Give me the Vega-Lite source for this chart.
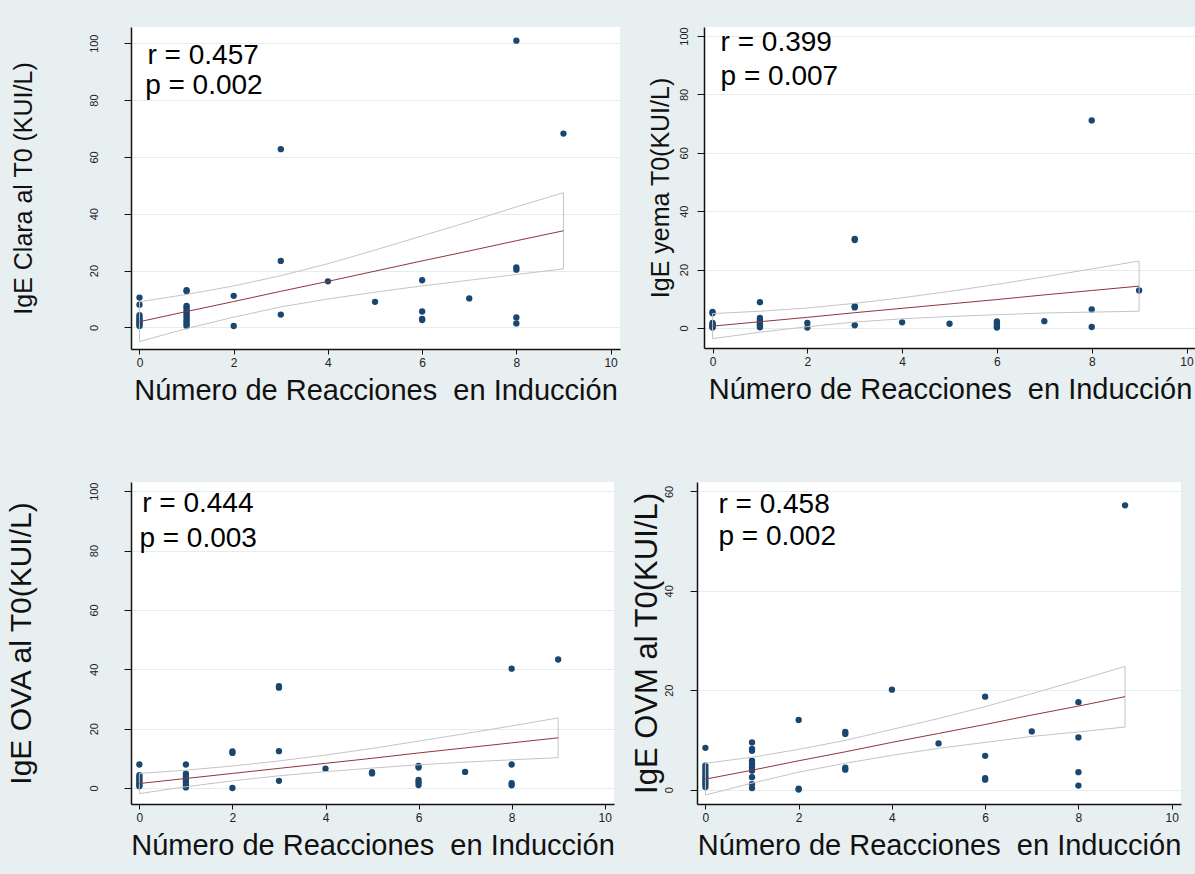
{
  "$schema": "https://vega.github.io/schema/vega-lite/v6.json",
  "background": "#e8eff1",
  "padding": {"left": 5, "top": 26, "right": 0, "bottom": 22},
  "spacing": 77,
  "config": {
    "font": "Liberation Sans",
    "view": {"fill": "white", "stroke": null},
    "axis": {"domainColor": "#111111", "domainWidth": 1.5, "tickColor": "#111111", "tickWidth": 1, "labelColor": "#222222", "titleColor": "#111111", "titleFontWeight": "normal", "labelFont": "Liberation Sans", "titleFont": "Liberation Sans", "gridColor": "#e4ecee", "gridWidth": 1},
    "axisX": {"grid": false, "tickSize": 5, "labelFontSize": 12, "labelPadding": 3, "titleFontSize": 29, "titlePadding": 8},
    "axisY": {"grid": true, "tickSize": 7, "labelFontSize": 11, "labelAngle": 270, "labelAlign": "center", "labelBaseline": "middle"}
  },
  "datasets": {
    "pts": [
      {"panel":"A","n":0,"v":10.5},{"panel":"A","n":0,"v":8.0},{"panel":"A","n":0,"v":4.3},{"panel":"A","n":0,"v":3.5},{"panel":"A","n":0,"v":2.8},{"panel":"A","n":0,"v":2.2},{"panel":"A","n":0,"v":1.6},{"panel":"A","n":0,"v":1.0},{"panel":"A","n":0,"v":0.5},
      {"panel":"A","n":1,"v":13.1},{"panel":"A","n":1,"v":12.7},{"panel":"A","n":1,"v":7.6},{"panel":"A","n":1,"v":7.0},{"panel":"A","n":1,"v":6.2},{"panel":"A","n":1,"v":5.4},{"panel":"A","n":1,"v":4.7},{"panel":"A","n":1,"v":4.0},{"panel":"A","n":1,"v":3.3},{"panel":"A","n":1,"v":2.5},{"panel":"A","n":1,"v":1.8},{"panel":"A","n":1,"v":1.0},{"panel":"A","n":1,"v":0.5},
      {"panel":"A","n":2,"v":11.1},{"panel":"A","n":2,"v":0.5},
      {"panel":"A","n":3,"v":62.7},{"panel":"A","n":3,"v":23.4},{"panel":"A","n":3,"v":4.5},
      {"panel":"A","n":4,"v":16.2},{"panel":"A","n":5,"v":9.0},
      {"panel":"A","n":6,"v":16.6},{"panel":"A","n":6,"v":5.6},{"panel":"A","n":6,"v":3.0},{"panel":"A","n":6,"v":2.6},
      {"panel":"A","n":7,"v":10.2},
      {"panel":"A","n":8,"v":100.9},{"panel":"A","n":8,"v":21.1},{"panel":"A","n":8,"v":20.3},{"panel":"A","n":8,"v":3.5},{"panel":"A","n":8,"v":1.4},
      {"panel":"A","n":9,"v":68.2},
      {"panel":"B","n":0,"v":5.5},{"panel":"B","n":0,"v":5.0},{"panel":"B","n":0,"v":1.7},{"panel":"B","n":0,"v":1.2},{"panel":"B","n":0,"v":0.8},{"panel":"B","n":0,"v":0.4},{"panel":"B","n":0,"v":0.1},
      {"panel":"B","n":1,"v":8.8},{"panel":"B","n":1,"v":3.4},{"panel":"B","n":1,"v":2.8},{"panel":"B","n":1,"v":2.2},{"panel":"B","n":1,"v":1.7},{"panel":"B","n":1,"v":1.2},{"panel":"B","n":1,"v":0.7},{"panel":"B","n":1,"v":0.2},
      {"panel":"B","n":2,"v":1.7},{"panel":"B","n":2,"v":0.1},
      {"panel":"B","n":3,"v":30.5},{"panel":"B","n":3,"v":30.1},{"panel":"B","n":3,"v":7.4},{"panel":"B","n":3,"v":7.0},{"panel":"B","n":3,"v":0.9},
      {"panel":"B","n":4,"v":1.9},{"panel":"B","n":5,"v":1.4},
      {"panel":"B","n":6,"v":2.2},{"panel":"B","n":6,"v":1.6},{"panel":"B","n":6,"v":1.0},{"panel":"B","n":6,"v":0.5},{"panel":"B","n":6,"v":0.1},
      {"panel":"B","n":7,"v":2.3},
      {"panel":"B","n":8,"v":71.1},{"panel":"B","n":8,"v":6.3},{"panel":"B","n":8,"v":0.3},
      {"panel":"B","n":9,"v":12.8},
      {"panel":"C","n":0,"v":7.9},{"panel":"C","n":0,"v":4.3},{"panel":"C","n":0,"v":3.6},{"panel":"C","n":0,"v":3.0},{"panel":"C","n":0,"v":2.4},{"panel":"C","n":0,"v":1.8},{"panel":"C","n":0,"v":1.2},{"panel":"C","n":0,"v":0.6},
      {"panel":"C","n":1,"v":7.9},{"panel":"C","n":1,"v":4.8},{"panel":"C","n":1,"v":4.0},{"panel":"C","n":1,"v":3.4},{"panel":"C","n":1,"v":2.8},{"panel":"C","n":1,"v":2.0},{"panel":"C","n":1,"v":1.0},{"panel":"C","n":1,"v":0.2},
      {"panel":"C","n":2,"v":12.3},{"panel":"C","n":2,"v":11.8},{"panel":"C","n":2,"v":0.0},
      {"panel":"C","n":3,"v":34.3},{"panel":"C","n":3,"v":33.8},{"panel":"C","n":3,"v":12.4},{"panel":"C","n":3,"v":2.4},
      {"panel":"C","n":4,"v":6.5},{"panel":"C","n":5,"v":5.3},{"panel":"C","n":5,"v":4.9},
      {"panel":"C","n":6,"v":7.4},{"panel":"C","n":6,"v":6.9},{"panel":"C","n":6,"v":2.7},{"panel":"C","n":6,"v":1.9},{"panel":"C","n":6,"v":1.0},
      {"panel":"C","n":7,"v":5.4},
      {"panel":"C","n":8,"v":40.2},{"panel":"C","n":8,"v":7.9},{"panel":"C","n":8,"v":1.6},{"panel":"C","n":8,"v":0.9},
      {"panel":"C","n":9,"v":43.3},
      {"panel":"D","n":0,"v":8.4},{"panel":"D","n":0,"v":4.8},{"panel":"D","n":0,"v":4.2},{"panel":"D","n":0,"v":3.6},{"panel":"D","n":0,"v":3.0},{"panel":"D","n":0,"v":2.5},{"panel":"D","n":0,"v":2.0},{"panel":"D","n":0,"v":1.5},{"panel":"D","n":0,"v":1.0},{"panel":"D","n":0,"v":0.5},
      {"panel":"D","n":1,"v":9.5},{"panel":"D","n":1,"v":8.2},{"panel":"D","n":1,"v":7.8},{"panel":"D","n":1,"v":5.8},{"panel":"D","n":1,"v":5.2},{"panel":"D","n":1,"v":4.5},{"panel":"D","n":1,"v":3.8},{"panel":"D","n":1,"v":2.5},{"panel":"D","n":1,"v":1.1},{"panel":"D","n":1,"v":0.3},
      {"panel":"D","n":2,"v":14.0},{"panel":"D","n":2,"v":0.2},{"panel":"D","n":2,"v":0.0},
      {"panel":"D","n":3,"v":11.6},{"panel":"D","n":3,"v":11.2},{"panel":"D","n":3,"v":4.4},{"panel":"D","n":3,"v":4.0},
      {"panel":"D","n":4,"v":20.1},{"panel":"D","n":5,"v":9.3},
      {"panel":"D","n":6,"v":18.7},{"panel":"D","n":6,"v":6.8},{"panel":"D","n":6,"v":2.3},{"panel":"D","n":6,"v":2.0},
      {"panel":"D","n":7,"v":11.7},
      {"panel":"D","n":8,"v":17.6},{"panel":"D","n":8,"v":10.5},{"panel":"D","n":8,"v":3.5},{"panel":"D","n":8,"v":0.8},
      {"panel":"D","n":9,"v":57.2}
    ],
    "ci": [
      {"panel":"A","n":0,"fit":2.0,"hi":9.0,"lo":-5.0},{"panel":"A","n":1,"fit":5.6,"hi":11.6,"lo":-0.4},{"panel":"A","n":2,"fit":9.1,"hi":14.6,"lo":3.6},{"panel":"A","n":3,"fit":12.7,"hi":18.2,"lo":7.2},{"panel":"A","n":4,"fit":16.2,"hi":22.4,"lo":10.0},{"panel":"A","n":5,"fit":19.8,"hi":27.2,"lo":12.4},{"panel":"A","n":6,"fit":23.4,"hi":32.2,"lo":14.6},{"panel":"A","n":7,"fit":26.9,"hi":37.2,"lo":16.6},{"panel":"A","n":8,"fit":30.5,"hi":42.4,"lo":18.6},{"panel":"A","n":9,"fit":34.0,"hi":47.4,"lo":20.6},
      {"panel":"B","n":0,"fit":0.6,"hi":4.9,"lo":-3.7},{"panel":"B","n":1,"fit":2.1,"hi":5.7,"lo":-1.5},{"panel":"B","n":2,"fit":3.6,"hi":6.8,"lo":0.4},{"panel":"B","n":3,"fit":5.2,"hi":8.4,"lo":2.0},{"panel":"B","n":4,"fit":6.7,"hi":10.3,"lo":3.1},{"panel":"B","n":5,"fit":8.2,"hi":12.5,"lo":3.9},{"panel":"B","n":6,"fit":9.7,"hi":14.9,"lo":4.5},{"panel":"B","n":7,"fit":11.3,"hi":17.5,"lo":5.1},{"panel":"B","n":8,"fit":12.8,"hi":20.2,"lo":5.4},{"panel":"B","n":9,"fit":14.3,"hi":22.9,"lo":5.7},
      {"panel":"C","n":0,"fit":1.5,"hi":4.9,"lo":-1.9},{"panel":"C","n":1,"fit":3.2,"hi":6.0,"lo":0.4},{"panel":"C","n":2,"fit":4.9,"hi":7.4,"lo":2.4},{"panel":"C","n":3,"fit":6.6,"hi":9.1,"lo":4.1},{"panel":"C","n":4,"fit":8.3,"hi":11.1,"lo":5.5},{"panel":"C","n":5,"fit":10.0,"hi":13.3,"lo":6.7},{"panel":"C","n":6,"fit":11.8,"hi":15.8,"lo":7.8},{"panel":"C","n":7,"fit":13.5,"hi":18.3,"lo":8.7},{"panel":"C","n":8,"fit":15.2,"hi":20.9,"lo":9.5},{"panel":"C","n":9,"fit":16.9,"hi":23.6,"lo":10.2},
      {"panel":"D","n":0,"fit":2.1,"hi":5.3,"lo":-1.1},{"panel":"D","n":1,"fit":3.9,"hi":6.5,"lo":1.3},{"panel":"D","n":2,"fit":5.8,"hi":8.1,"lo":3.5},{"panel":"D","n":3,"fit":7.6,"hi":9.9,"lo":5.3},{"panel":"D","n":4,"fit":9.5,"hi":12.1,"lo":6.9},{"panel":"D","n":5,"fit":11.3,"hi":14.3,"lo":8.3},{"panel":"D","n":6,"fit":13.1,"hi":16.7,"lo":9.5},{"panel":"D","n":7,"fit":15.0,"hi":19.3,"lo":10.7},{"panel":"D","n":8,"fit":16.8,"hi":22.0,"lo":11.6},{"panel":"D","n":9,"fit":18.7,"hi":24.8,"lo":12.6}
    ],
    "notes": [
      {"panel":"A","label":"r = 0.457","n":0.17,"v":95.5},{"panel":"A","label":"p = 0.002","n":0.12,"v":85.0},
      {"panel":"B","label":"r = 0.399","n":0.17,"v":97.7},{"panel":"B","label":"p = 0.007","n":0.17,"v":85.9},
      {"panel":"C","label":"r = 0.444","n":0.06,"v":95.8},{"panel":"C","label":"p = 0.003","n":0.0,"v":83.9},
      {"panel":"D","label":"r = 0.458","n":0.28,"v":57.3},{"panel":"D","label":"p = 0.002","n":0.28,"v":50.8}
    ]
  },
  "vconcat": [
    {
      "spacing": 28,
      "hconcat": [
        {
          "width": 489, "height": 322,
          "layer": [
            {"data": {"name": "pts"}, "transform": [{"filter": "datum.panel === 'A'"}],
             "mark": {"type": "circle", "color": "#1a476f", "opacity": 1, "size": 40},
             "encoding": {
               "x": {"field": "n", "type": "quantitative", "title": "Número de Reacciones\u00a0 en Inducción", "scale": {"domain": [-0.18, 10.2], "nice": false, "zero": false}, "axis": {"values": [0,2,4,6,8,10]}},
               "y": {"field": "v", "type": "quantitative", "title": "IgE Clara al T0 (KUI/L)", "scale": {"domain": [-7.6, 105.7], "nice": false, "zero": false}, "axis": {"values": [0,20,40,60,80,100], "labelPadding": 30, "titleFontSize": 25, "titlePadding": 52}}
             }},
            {"data": {"name": "ci"}, "transform": [{"filter": "datum.panel === 'A'"}],
             "mark": {"type": "area", "fill": "transparent", "stroke": "#c4c4c4", "strokeWidth": 1},
             "encoding": {
               "x": {"field": "n", "type": "quantitative", "title": "Número de Reacciones\u00a0 en Inducción"},
               "y": {"field": "hi", "type": "quantitative", "title": "IgE Clara al T0 (KUI/L)"},
               "y2": {"field": "lo"}
             }},
            {"data": {"name": "ci"}, "transform": [{"filter": "datum.panel === 'A'"}],
             "mark": {"type": "line", "color": "#90353b", "strokeWidth": 1},
             "encoding": {
               "x": {"field": "n", "type": "quantitative", "title": "Número de Reacciones\u00a0 en Inducción"},
               "y": {"field": "fit", "type": "quantitative", "title": "IgE Clara al T0 (KUI/L)"}
             }},
            {"data": {"name": "notes"}, "transform": [{"filter": "datum.panel === 'A'"}],
             "mark": {"type": "text", "align": "left", "baseline": "middle", "fontSize": 28, "color": "#000000"},
             "encoding": {
               "x": {"field": "n", "type": "quantitative", "title": "Número de Reacciones\u00a0 en Inducción"},
               "y": {"field": "v", "type": "quantitative", "title": "IgE Clara al T0 (KUI/L)"},
               "text": {"field": "label"}
             }}
          ]
        },
        {
          "width": 492, "height": 321,
          "layer": [
            {"data": {"name": "pts"}, "transform": [{"filter": "datum.panel === 'B'"}],
             "mark": {"type": "circle", "color": "#1a476f", "opacity": 1, "size": 40},
             "encoding": {
               "x": {"field": "n", "type": "quantitative", "title": "Número de Reacciones\u00a0 en Inducción", "scale": {"domain": [-0.18, 10.2], "nice": false, "zero": false}, "axis": {"values": [0,2,4,6,8,10]}},
               "y": {"field": "v", "type": "quantitative", "title": "IgE yema T0(KUI/L)", "scale": {"domain": [-6.9, 103.1], "nice": false, "zero": false}, "axis": {"values": [0,20,40,60,80,100], "labelPadding": 13, "titleFontSize": 25, "titlePadding": 5}}
             }},
            {"data": {"name": "ci"}, "transform": [{"filter": "datum.panel === 'B'"}],
             "mark": {"type": "area", "fill": "transparent", "stroke": "#c4c4c4", "strokeWidth": 1},
             "encoding": {
               "x": {"field": "n", "type": "quantitative", "title": "Número de Reacciones\u00a0 en Inducción"},
               "y": {"field": "hi", "type": "quantitative", "title": "IgE yema T0(KUI/L)"},
               "y2": {"field": "lo"}
             }},
            {"data": {"name": "ci"}, "transform": [{"filter": "datum.panel === 'B'"}],
             "mark": {"type": "line", "color": "#90353b", "strokeWidth": 1},
             "encoding": {
               "x": {"field": "n", "type": "quantitative", "title": "Número de Reacciones\u00a0 en Inducción"},
               "y": {"field": "fit", "type": "quantitative", "title": "IgE yema T0(KUI/L)"}
             }},
            {"data": {"name": "notes"}, "transform": [{"filter": "datum.panel === 'B'"}],
             "mark": {"type": "text", "align": "left", "baseline": "middle", "fontSize": 28, "color": "#000000"},
             "encoding": {
               "x": {"field": "n", "type": "quantitative", "title": "Número de Reacciones\u00a0 en Inducción"},
               "y": {"field": "v", "type": "quantitative", "title": "IgE yema T0(KUI/L)"},
               "text": {"field": "label"}
             }}
          ]
        }
      ]
    },
    {
      "spacing": 15,
      "hconcat": [
        {
          "width": 483, "height": 322,
          "layer": [
            {"data": {"name": "pts"}, "transform": [{"filter": "datum.panel === 'C'"}],
             "mark": {"type": "circle", "color": "#1a476f", "opacity": 1, "size": 40},
             "encoding": {
               "x": {"field": "n", "type": "quantitative", "title": "Número de Reacciones\u00a0 en Inducción", "scale": {"domain": [-0.18, 10.2], "nice": false, "zero": false}, "axis": {"values": [0,2,4,6,8,10]}},
               "y": {"field": "v", "type": "quantitative", "title": "IgE OVA al T0(KUI/L)", "scale": {"domain": [-5.4, 103.1], "nice": false, "zero": false}, "axis": {"values": [0,20,40,60,80,100], "labelPadding": 30, "titleFontSize": 30, "titlePadding": 52}}
             }},
            {"data": {"name": "ci"}, "transform": [{"filter": "datum.panel === 'C'"}],
             "mark": {"type": "area", "fill": "transparent", "stroke": "#c4c4c4", "strokeWidth": 1},
             "encoding": {
               "x": {"field": "n", "type": "quantitative", "title": "Número de Reacciones\u00a0 en Inducción"},
               "y": {"field": "hi", "type": "quantitative", "title": "IgE OVA al T0(KUI/L)"},
               "y2": {"field": "lo"}
             }},
            {"data": {"name": "ci"}, "transform": [{"filter": "datum.panel === 'C'"}],
             "mark": {"type": "line", "color": "#90353b", "strokeWidth": 1},
             "encoding": {
               "x": {"field": "n", "type": "quantitative", "title": "Número de Reacciones\u00a0 en Inducción"},
               "y": {"field": "fit", "type": "quantitative", "title": "IgE OVA al T0(KUI/L)"}
             }},
            {"data": {"name": "notes"}, "transform": [{"filter": "datum.panel === 'C'"}],
             "mark": {"type": "text", "align": "left", "baseline": "middle", "fontSize": 28, "color": "#000000"},
             "encoding": {
               "x": {"field": "n", "type": "quantitative", "title": "Número de Reacciones\u00a0 en Inducción"},
               "y": {"field": "v", "type": "quantitative", "title": "IgE OVA al T0(KUI/L)"},
               "text": {"field": "label"}
             }}
          ]
        },
        {
          "width": 484, "height": 322,
          "layer": [
            {"data": {"name": "pts"}, "transform": [{"filter": "datum.panel === 'D'"}],
             "mark": {"type": "circle", "color": "#1a476f", "opacity": 1, "size": 40},
             "encoding": {
               "x": {"field": "n", "type": "quantitative", "title": "Número de Reacciones\u00a0 en Inducción", "scale": {"domain": [-0.18, 10.2], "nice": false, "zero": false}, "axis": {"values": [0,2,4,6,8,10]}},
               "y": {"field": "v", "type": "quantitative", "title": "IgE OVM al T0(KUI/L)", "scale": {"domain": [-2.9, 61.9], "nice": false, "zero": false}, "axis": {"values": [0,20,40,60], "labelPadding": 21, "titleFontSize": 31, "titlePadding": 0}}
             }},
            {"data": {"name": "ci"}, "transform": [{"filter": "datum.panel === 'D'"}],
             "mark": {"type": "area", "fill": "transparent", "stroke": "#c4c4c4", "strokeWidth": 1},
             "encoding": {
               "x": {"field": "n", "type": "quantitative", "title": "Número de Reacciones\u00a0 en Inducción"},
               "y": {"field": "hi", "type": "quantitative", "title": "IgE OVM al T0(KUI/L)"},
               "y2": {"field": "lo"}
             }},
            {"data": {"name": "ci"}, "transform": [{"filter": "datum.panel === 'D'"}],
             "mark": {"type": "line", "color": "#90353b", "strokeWidth": 1},
             "encoding": {
               "x": {"field": "n", "type": "quantitative", "title": "Número de Reacciones\u00a0 en Inducción"},
               "y": {"field": "fit", "type": "quantitative", "title": "IgE OVM al T0(KUI/L)"}
             }},
            {"data": {"name": "notes"}, "transform": [{"filter": "datum.panel === 'D'"}],
             "mark": {"type": "text", "align": "left", "baseline": "middle", "fontSize": 28, "color": "#000000"},
             "encoding": {
               "x": {"field": "n", "type": "quantitative", "title": "Número de Reacciones\u00a0 en Inducción"},
               "y": {"field": "v", "type": "quantitative", "title": "IgE OVM al T0(KUI/L)"},
               "text": {"field": "label"}
             }}
          ]
        }
      ]
    }
  ]
}
